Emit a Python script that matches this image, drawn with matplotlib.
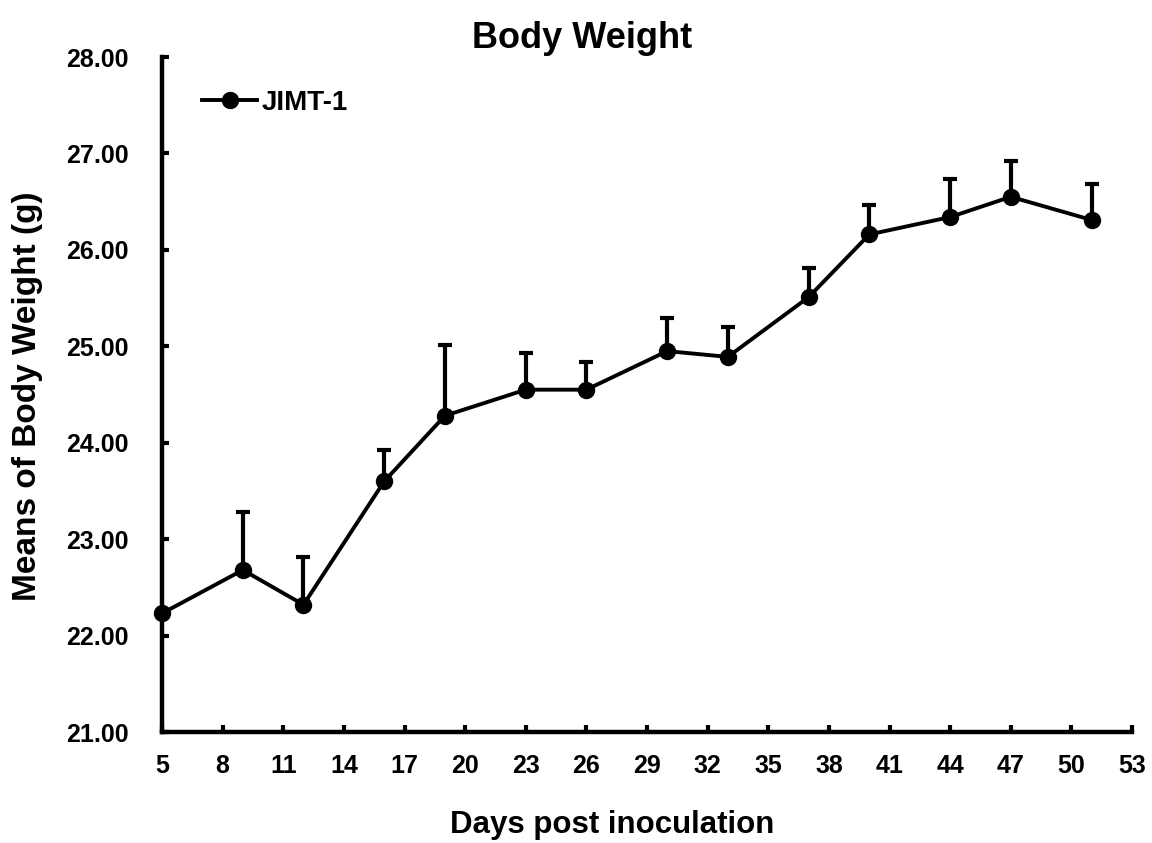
import matplotlib.pyplot as plt
import numpy as np

plt.rcParams['font.family'] = ['Liberation Sans', 'DejaVu Sans']
plt.rcParams['font.weight'] = 'bold'

# days post inoculation and mean body weight (g), upper error (SD)
days = [5, 9, 12, 16, 19, 23, 26, 30, 33, 37, 40, 44, 47, 51]
weight = [22.23, 22.68, 22.32, 23.60, 24.28, 24.55, 24.55, 24.95, 24.89,
          25.51, 26.16, 26.34, 26.55, 26.31]
err_top = [22.23, 23.28, 22.81, 23.92, 25.01, 24.93, 24.84, 25.29, 25.20,
           25.81, 26.47, 26.73, 26.92, 26.68]
err = np.array(err_top) - np.array(weight)

x_ticks = np.arange(5, 54, 3)
y_ticks = np.arange(21, 28.5, 1)

fig = plt.figure(figsize=(11.52, 8.43), dpi=100)
ax = fig.add_axes([162 / 1152, 1 - 732 / 843, 970 / 1152, (732 - 57) / 843])

lower = np.zeros_like(err)
ax.errorbar(days, weight, yerr=[lower, err], fmt='none', ecolor='black',
            elinewidth=3, capsize=5, capthick=3, clip_on=False, zorder=3)
ax.plot(days, weight, color='black', linewidth=2.8, marker='o',
        markersize=11.5, label='JIMT-1', clip_on=False, zorder=4)

ax.set_xlim(5, 53)
ax.set_ylim(21, 28)
ax.set_xticks(x_ticks)
ax.set_yticks(y_ticks)
ax.set_yticklabels([f"{v:.2f}" for v in y_ticks])

for side in ['top', 'right']:
    ax.spines[side].set_visible(False)
for side in ['left', 'bottom']:
    ax.spines[side].set_linewidth(3.2)

ax.tick_params(axis='both', direction='in', length=5, width=3, labelsize=18)
ax.tick_params(axis='y', pad=24)
ax.tick_params(axis='x', pad=16)

ax.legend(loc='center left', bbox_to_anchor=(0.041, 0.932), frameon=False,
          fontsize=20, handlelength=2.0, handletextpad=0.15, borderpad=0,
          borderaxespad=0)

fig.text(0.505, 1 - 38 / 843, 'Body Weight', ha='center', va='center',
         fontsize=26, fontweight='bold')
fig.text(612 / 1152, 1 - 825 / 843, 'Days post inoculation', ha='center',
         va='center', fontsize=22.5, fontweight='bold')
fig.text(28 / 1152, 1 - 396 / 843, 'Means of Body Weight (g)', ha='center',
         va='center', rotation=90, fontsize=24, fontweight='bold')

fig.savefig('out.png', dpi=100)
